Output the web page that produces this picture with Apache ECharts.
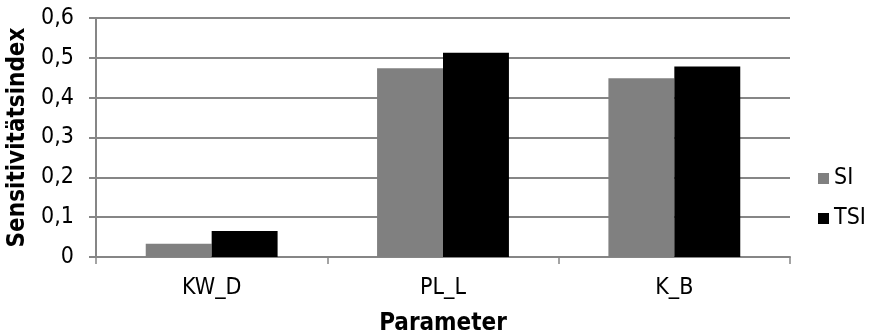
<!DOCTYPE html>
<html>
<head>
<meta charset="utf-8">
<script src="https://cdn.jsdelivr.net/npm/echarts@6/dist/echarts.min.js"></script>
<style>
  html, body { margin: 0; padding: 0; background: #fff; }
  #chart { width: 878px; height: 335px; }
</style>
</head>
<body>
<div id="chart"></div>
<script>
// Sensitivity indices per parameter
const categories = ['KW_D', 'PL_L', 'K_B'];
const siValues = [0.033, 0.474, 0.449];
const tsiValues = [0.065, 0.513, 0.478];
const seriesNames = ['SI', 'TSI'];

const FONT = '"DejaVu Sans Condensed", "DejaVu Sans", sans-serif';
const axisGray = '#868686';

const chart = echarts.init(document.getElementById('chart'), null, { renderer: 'canvas' });
chart.setOption({
  animation: false,
  textStyle: { fontFamily: FONT },
  grid: { left: 96, right: 88, top: 18, bottom: 78, containLabel: false, outerBoundsMode: 'none' },
  legend: {
    orient: 'vertical',
    left: 813,
    top: 162,
    itemWidth: 11,
    itemHeight: 11,
    itemGap: 17,
    icon: 'rect',
    data: seriesNames,
    textStyle: { fontFamily: FONT, fontSize: 23, color: '#000' }
  },
  xAxis: {
    type: 'category',
    data: categories,
    name: 'Parameter',
    nameLocation: 'middle',
    nameGap: 55,
    nameTextStyle: { fontFamily: FONT, fontSize: 24, fontWeight: 'bold', color: '#000' },
    axisLine: { lineStyle: { color: axisGray, width: 2 } },
    axisTick: { show: true, length: 7, lineStyle: { color: axisGray, width: 1.5 } },
    axisLabel: { fontFamily: FONT, fontSize: 23, color: '#000', margin: 20 }
  },
  yAxis: {
    type: 'value',
    min: 0,
    max: 0.6,
    interval: 0.1,
    name: 'Sensitivitätsindex',
    nameLocation: 'middle',
    nameGap: 66,
    nameTextStyle: { fontFamily: FONT, fontSize: 24, fontWeight: 'bold', color: '#000' },
    axisLine: { show: true, lineStyle: { color: axisGray, width: 2 } },
    axisTick: { show: true, length: 7, lineStyle: { color: axisGray, width: 2 } },
    axisLabel: {
      fontFamily: FONT, fontSize: 23, color: '#000', margin: 22,
      formatter: v => v === 0 ? '0' : v.toFixed(1).replace('.', ',')
    },
    splitLine: { show: true, lineStyle: { color: axisGray, width: 2 } }
  },
  series: [
    {
      name: seriesNames[0],
      type: 'bar',
      data: siValues,
      barGap: '0%',
      barCategoryGap: '43%',
      itemStyle: { color: '#808080' }
    },
    {
      name: seriesNames[1],
      type: 'bar',
      data: tsiValues,
      barGap: '0%',
      barCategoryGap: '43%',
      itemStyle: { color: '#000000' }
    }
  ]
});
</script>
</body>
</html>
